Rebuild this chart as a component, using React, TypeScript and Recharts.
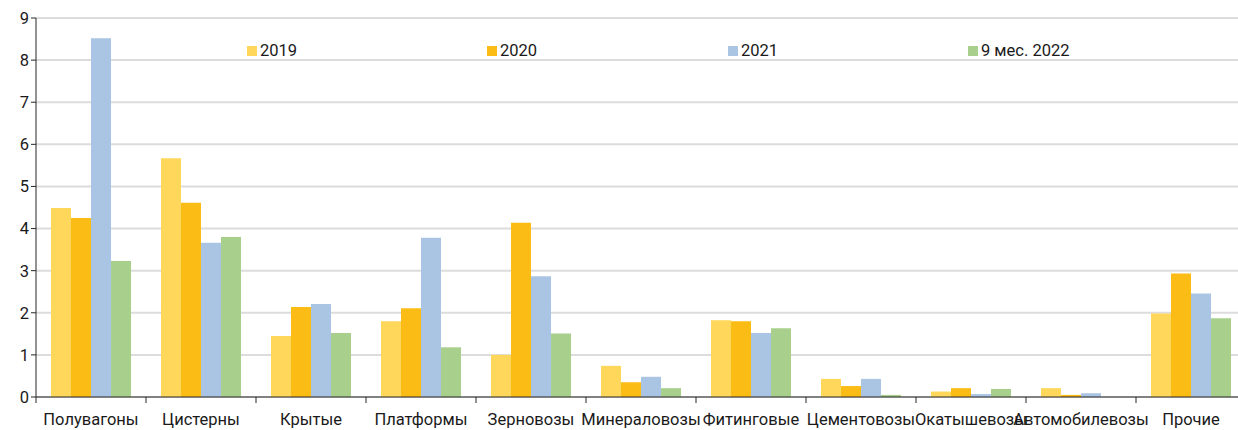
import React from "react";
import { BarChart, Bar, XAxis, YAxis, CartesianGrid } from "recharts";

const categories = [
  "Полувагоны",
  "Цистерны",
  "Крытые",
  "Платформы",
  "Зерновозы",
  "Минераловозы",
  "Фитинговые",
  "Цементовозы",
  "Окатышевозы",
  "Автомобилевозы",
  "Прочие",
];
const s2019 = [4.49, 5.67, 1.45, 1.8, 1.0, 0.74, 1.82, 0.43, 0.13, 0.21, 1.98];
const s2020 = [4.25, 4.61, 2.14, 2.11, 4.14, 0.35, 1.8, 0.26, 0.21, 0.05, 2.93];
const s2021 = [8.52, 3.66, 2.21, 3.78, 2.87, 0.48, 1.52, 0.43, 0.07, 0.09, 2.46];
const s2022 = [3.23, 3.8, 1.52, 1.18, 1.51, 0.21, 1.63, 0.05, 0.19, 0, 1.87];
const seriesNames = ["2019", "2020", "2021", "9 мес. 2022"];
const seriesKeys = ["a", "b", "c", "d"];
const colors = ["#FFD75A", "#FBBC15", "#AAC5E4", "#A8D08C"];
const yTicks = [0, 1, 2, 3, 4, 5, 6, 7, 8, 9];

const data = categories.map((name, i) => ({
  name,
  a: s2019[i],
  b: s2020[i],
  c: s2021[i],
  d: s2022[i],
}));

const FONT = "Roboto, sans-serif";
const FS = 16.5;
const CHART_W = 1250;
const CHART_H = 430;
const Y_W = 36;
const M_RIGHT = 4;
const BAND = (CHART_W - Y_W - M_RIGHT) / categories.length;

const XTick = (props: any) => {
  const { x, y, payload } = props;
  return (
    <g>
      <line x1={x - BAND / 2} x2={x - BAND / 2} y1={y - 8} y2={y - 2} stroke="#262626" strokeWidth={1} />
      <text x={x} y={y + 20} textAnchor="middle" fontSize={FS} fill="#1a1a1a" fontFamily={FONT}>
        {payload.value}
      </text>
    </g>
  );
};

const LegendOverlay = () => {
  const lefts = [247, 487, 728, 968];
  return (
    <div style={{ position: "absolute", left: 0, top: 41, width: 1238, height: 20, pointerEvents: "none" }}>
      {seriesNames.map((n, i) => (
        <div
          key={n}
          style={{
            position: "absolute",
            left: lefts[i],
            top: 0,
            display: "flex",
            alignItems: "center",
            fontFamily: FONT,
            fontSize: FS,
            lineHeight: "20px",
            color: "#1a1a1a",
          }}
        >
          <span style={{ display: "inline-block", width: 10, height: 10, background: colors[i], marginRight: 3 }} />
          <span>{n}</span>
        </div>
      ))}
    </div>
  );
};

export default function App() {
  return (
    <div style={{ position: "absolute", left: 0, top: 0, width: 1238, height: 430, overflow: "hidden", background: "#fff" }}>
      <BarChart
        width={CHART_W}
        height={CHART_H}
        data={data}
        margin={{ top: 18, right: M_RIGHT, bottom: 0, left: 0 }}
        barCategoryGap={15}
        barGap={0}
      >
        <CartesianGrid vertical={false} stroke="#DCDCDC" strokeWidth={2} />
        <XAxis
          dataKey="name"
          interval={0}
          height={33}
          axisLine={{ stroke: "#262626", strokeWidth: 1 }}
          tickLine={false}
          tick={<XTick />}
        />
        <YAxis
          width={Y_W}
          domain={[0, 9]}
          ticks={yTicks}
          interval={0}
          axisLine={{ stroke: "#262626", strokeWidth: 1 }}
          tickLine={{ stroke: "#262626" }}
          tickSize={5}
          tick={{ fontSize: FS, fill: "#1a1a1a", fontFamily: FONT }}
        />
        {seriesKeys.map((k, i) => (
          <Bar key={k} dataKey={k} name={seriesNames[i]} fill={colors[i]} isAnimationActive={false} />
        ))}
      </BarChart>
      <LegendOverlay />
    </div>
  );
}
